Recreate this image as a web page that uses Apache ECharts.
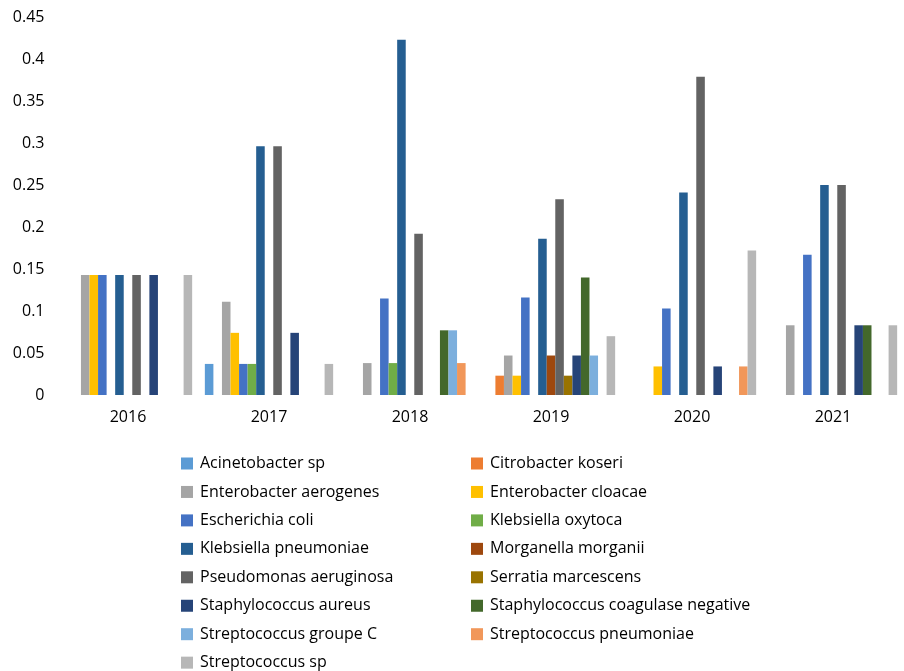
<!DOCTYPE html>
<html>
<head>
<meta charset="utf-8">
<script src="https://cdn.jsdelivr.net/npm/echarts@6/dist/echarts.min.js"></script>
<style>
  html, body { margin: 0; padding: 0; background: #fff; }
  #chart { width: 904px; height: 671px; }
</style>
</head>
<body>
<div id="chart"></div>
<script>
// years on the x axis
const annees = ['2016', '2017', '2018', '2019', '2020', '2021'];

// one array per germ, values by year
const acinetobacter = [0, 0.037, 0, 0, 0, 0];
const citrobacter = [0, 0, 0, 0.023, 0, 0];
const entero_aerogenes = [0.143, 0.111, 0.038, 0.047, 0, 0.083];
const entero_cloacae = [0.143, 0.074, 0, 0.023, 0.034, 0];
const escherichia = [0.143, 0.037, 0.115, 0.116, 0.103, 0.167];
const kleb_oxytoca = [0, 0.037, 0.038, 0, 0, 0];
const kleb_pneumoniae = [0.143, 0.296, 0.423, 0.186, 0.241, 0.25];
const morganella = [0, 0, 0, 0.047, 0, 0];
const pseudomonas = [0.143, 0.296, 0.192, 0.233, 0.379, 0.25];
const serratia = [0, 0, 0, 0.023, 0, 0];
const staph_aureus = [0.143, 0.074, 0, 0.047, 0.034, 0.083];
const staph_coag_neg = [0, 0, 0.077, 0.14, 0, 0.083];
const strep_groupe_c = [0, 0, 0.077, 0.047, 0, 0];
const strep_pneumoniae = [0, 0, 0.038, 0, 0.034, 0];
const strep_sp = [0.143, 0.037, 0, 0.07, 0.172, 0.083];

const noms = [
    'Acinetobacter sp', 'Citrobacter koseri', 'Enterobacter aerogenes',
    'Enterobacter cloacae', 'Escherichia coli', 'Klebsiella oxytoca',
    'Klebsiella pneumoniae', 'Morganella morganii', 'Pseudomonas aeruginosa',
    'Serratia marcescens', 'Staphylococcus aureus', 'Staphylococcus coagulase negative',
    'Streptococcus groupe C', 'Streptococcus pneumoniae', 'Streptococcus sp'
];
const valeurs = [
    acinetobacter, citrobacter, entero_aerogenes, entero_cloacae, escherichia,
    kleb_oxytoca, kleb_pneumoniae, morganella, pseudomonas, serratia,
    staph_aureus, staph_coag_neg, strep_groupe_c, strep_pneumoniae, strep_sp
];

// office palette
const couleurs = [
    '#5B9BD5', '#ED7D31', '#A5A5A5', '#FFC000', '#4472C4', '#70AD47',
    '#255E91', '#9E480E', '#636363', '#997300', '#264478', '#43682B',
    '#7CAFDD', '#F1975A', '#B7B7B7'
];

const police = 'Open Sans';

const series = noms.map(function (nom, i) {
    return {
        name: nom,
        type: 'bar',
        barGap: '0%',
        barCategoryGap: '9%',
        itemStyle: { color: couleurs[i] },
        data: valeurs[i]
    };
});

// two columns of legend, left = even items, right = odd items
function legende(gauche, parite) {
    return {
        orient: 'vertical',
        left: gauche,
        top: 455.5,
        height: 260,
        padding: 0,
        icon: 'rect',
        itemWidth: 12,
        itemHeight: 12,
        itemGap: 12.45,
        selectedMode: false,
        data: noms.filter(function (n, i) { return i % 2 === parite; }),
        textStyle: { fontFamily: police, fontSize: 16, color: '#000', padding: [0, 0, 0, 2] }
    };
}

var myChart = echarts.init(document.getElementById('chart'), null, { renderer: 'canvas' });
var option = {
    animation: false,
    color: couleurs,
    grid: { left: 57.5, right: 0.5, top: 17, bottom: 276, containLabel: false },
    legend: [legende(181, 0), legende(471, 1)],
    xAxis: {
        type: 'category',
        data: annees,
        axisLine: { show: false },
        axisTick: { show: false },
        axisLabel: { fontFamily: police, fontSize: 16, color: '#000', margin: 14 }
    },
    yAxis: {
        type: 'value',
        min: 0,
        max: 0.45,
        interval: 0.05,
        splitLine: { show: false },
        axisLine: { show: false },
        axisTick: { show: false },
        axisLabel: {
            fontFamily: police, fontSize: 16, color: '#000', margin: 13,
            formatter: function (v) { return String(Math.round(v * 100) / 100); }
        }
    },
    series: series
};
myChart.setOption(option);
</script>
</body>
</html>
